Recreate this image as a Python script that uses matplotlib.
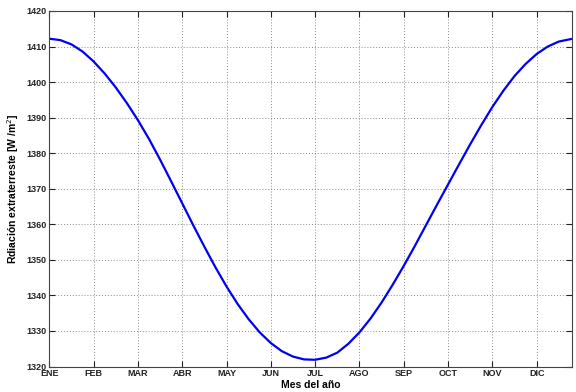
import matplotlib
matplotlib.use("Agg")
import matplotlib.pyplot as plt

# Day of year at which each value was read
days = [0, 7.75, 15.5, 23.25, 31, 38.75, 46.5, 54.25, 62, 69.75, 77.5, 85.25,
        93, 100.75, 108.5, 116.25, 124, 131.75, 139.5, 147.25, 155, 162.75,
        170.5, 178.25, 186, 193.75, 201.5, 209.25, 217, 224.75, 232.5, 240.25,
        248, 255.75, 263.5, 271.25, 279, 286.75, 294.5, 302.25, 310, 317.75,
        325.5, 333.25, 341, 348.75, 356.5, 365]
# Extraterrestrial radiation (W/m^2)
radiation = [1412.2, 1411.8, 1410.6, 1408.6, 1405.8, 1402.4, 1398.5, 1394.1,
             1389.3, 1384.0, 1378.2, 1372.1, 1365.9, 1359.7, 1353.7, 1347.9,
             1342.5, 1337.6, 1333.3, 1329.6, 1326.6, 1324.3, 1322.8, 1322.0,
             1321.9, 1322.5, 1323.9, 1326.4, 1329.6, 1333.5, 1338.0, 1343.0,
             1348.3, 1353.9, 1359.7, 1365.5, 1371.2, 1376.9, 1382.5, 1387.9,
             1393.0, 1397.6, 1401.7, 1405.1, 1407.9, 1410.0, 1411.4, 1412.1]

month_labels = ["ENE", "FEB", "MAR", "ABR", "MAY", "JUN", "JUL", "AGO",
                "SEP", "OCT", "NOV", "DIC"]
month_ticks = [31 * i for i in range(12)]
y_ticks = list(range(1320, 1421, 10))

plt.rcParams['font.family'] = ['Liberation Sans', 'DejaVu Sans']

fig = plt.figure(figsize=(5.76, 3.92), dpi=100)
ax = fig.add_axes([0.0856, 0.065, 0.9069, 0.907])

ax.plot(days, radiation, color=(0.0, 0.0, 0.95), linewidth=1.6,
        solid_joinstyle='round')

ax.set_xlim(0, 365.5)
ax.set_ylim(1320, 1420)
ax.set_xticks(month_ticks)
ax.set_xticklabels(month_labels)
ax.set_yticks(y_ticks)

ax.grid(True, linestyle=(0, (1, 2)), color='#8a8a8a', linewidth=0.7)
ax.tick_params(direction='in', top=True, right=True, length=4, width=0.8,
               labelsize=6.5, pad=2, colors='#222222')
for lab in ax.get_xticklabels() + ax.get_yticklabels():
    lab.set_fontweight('bold')
for s in ax.spines.values():
    s.set_color('#444444')
    s.set_linewidth(0.8)

ax.set_xlabel("Mes del año", fontsize=7.5, fontweight='bold', labelpad=1)
ax.set_ylabel("Rdiación extraterreste [W /m$^2$]", fontsize=7.5,
              fontweight='bold', labelpad=4)

fig.savefig("out.png", dpi=100, facecolor='white')
